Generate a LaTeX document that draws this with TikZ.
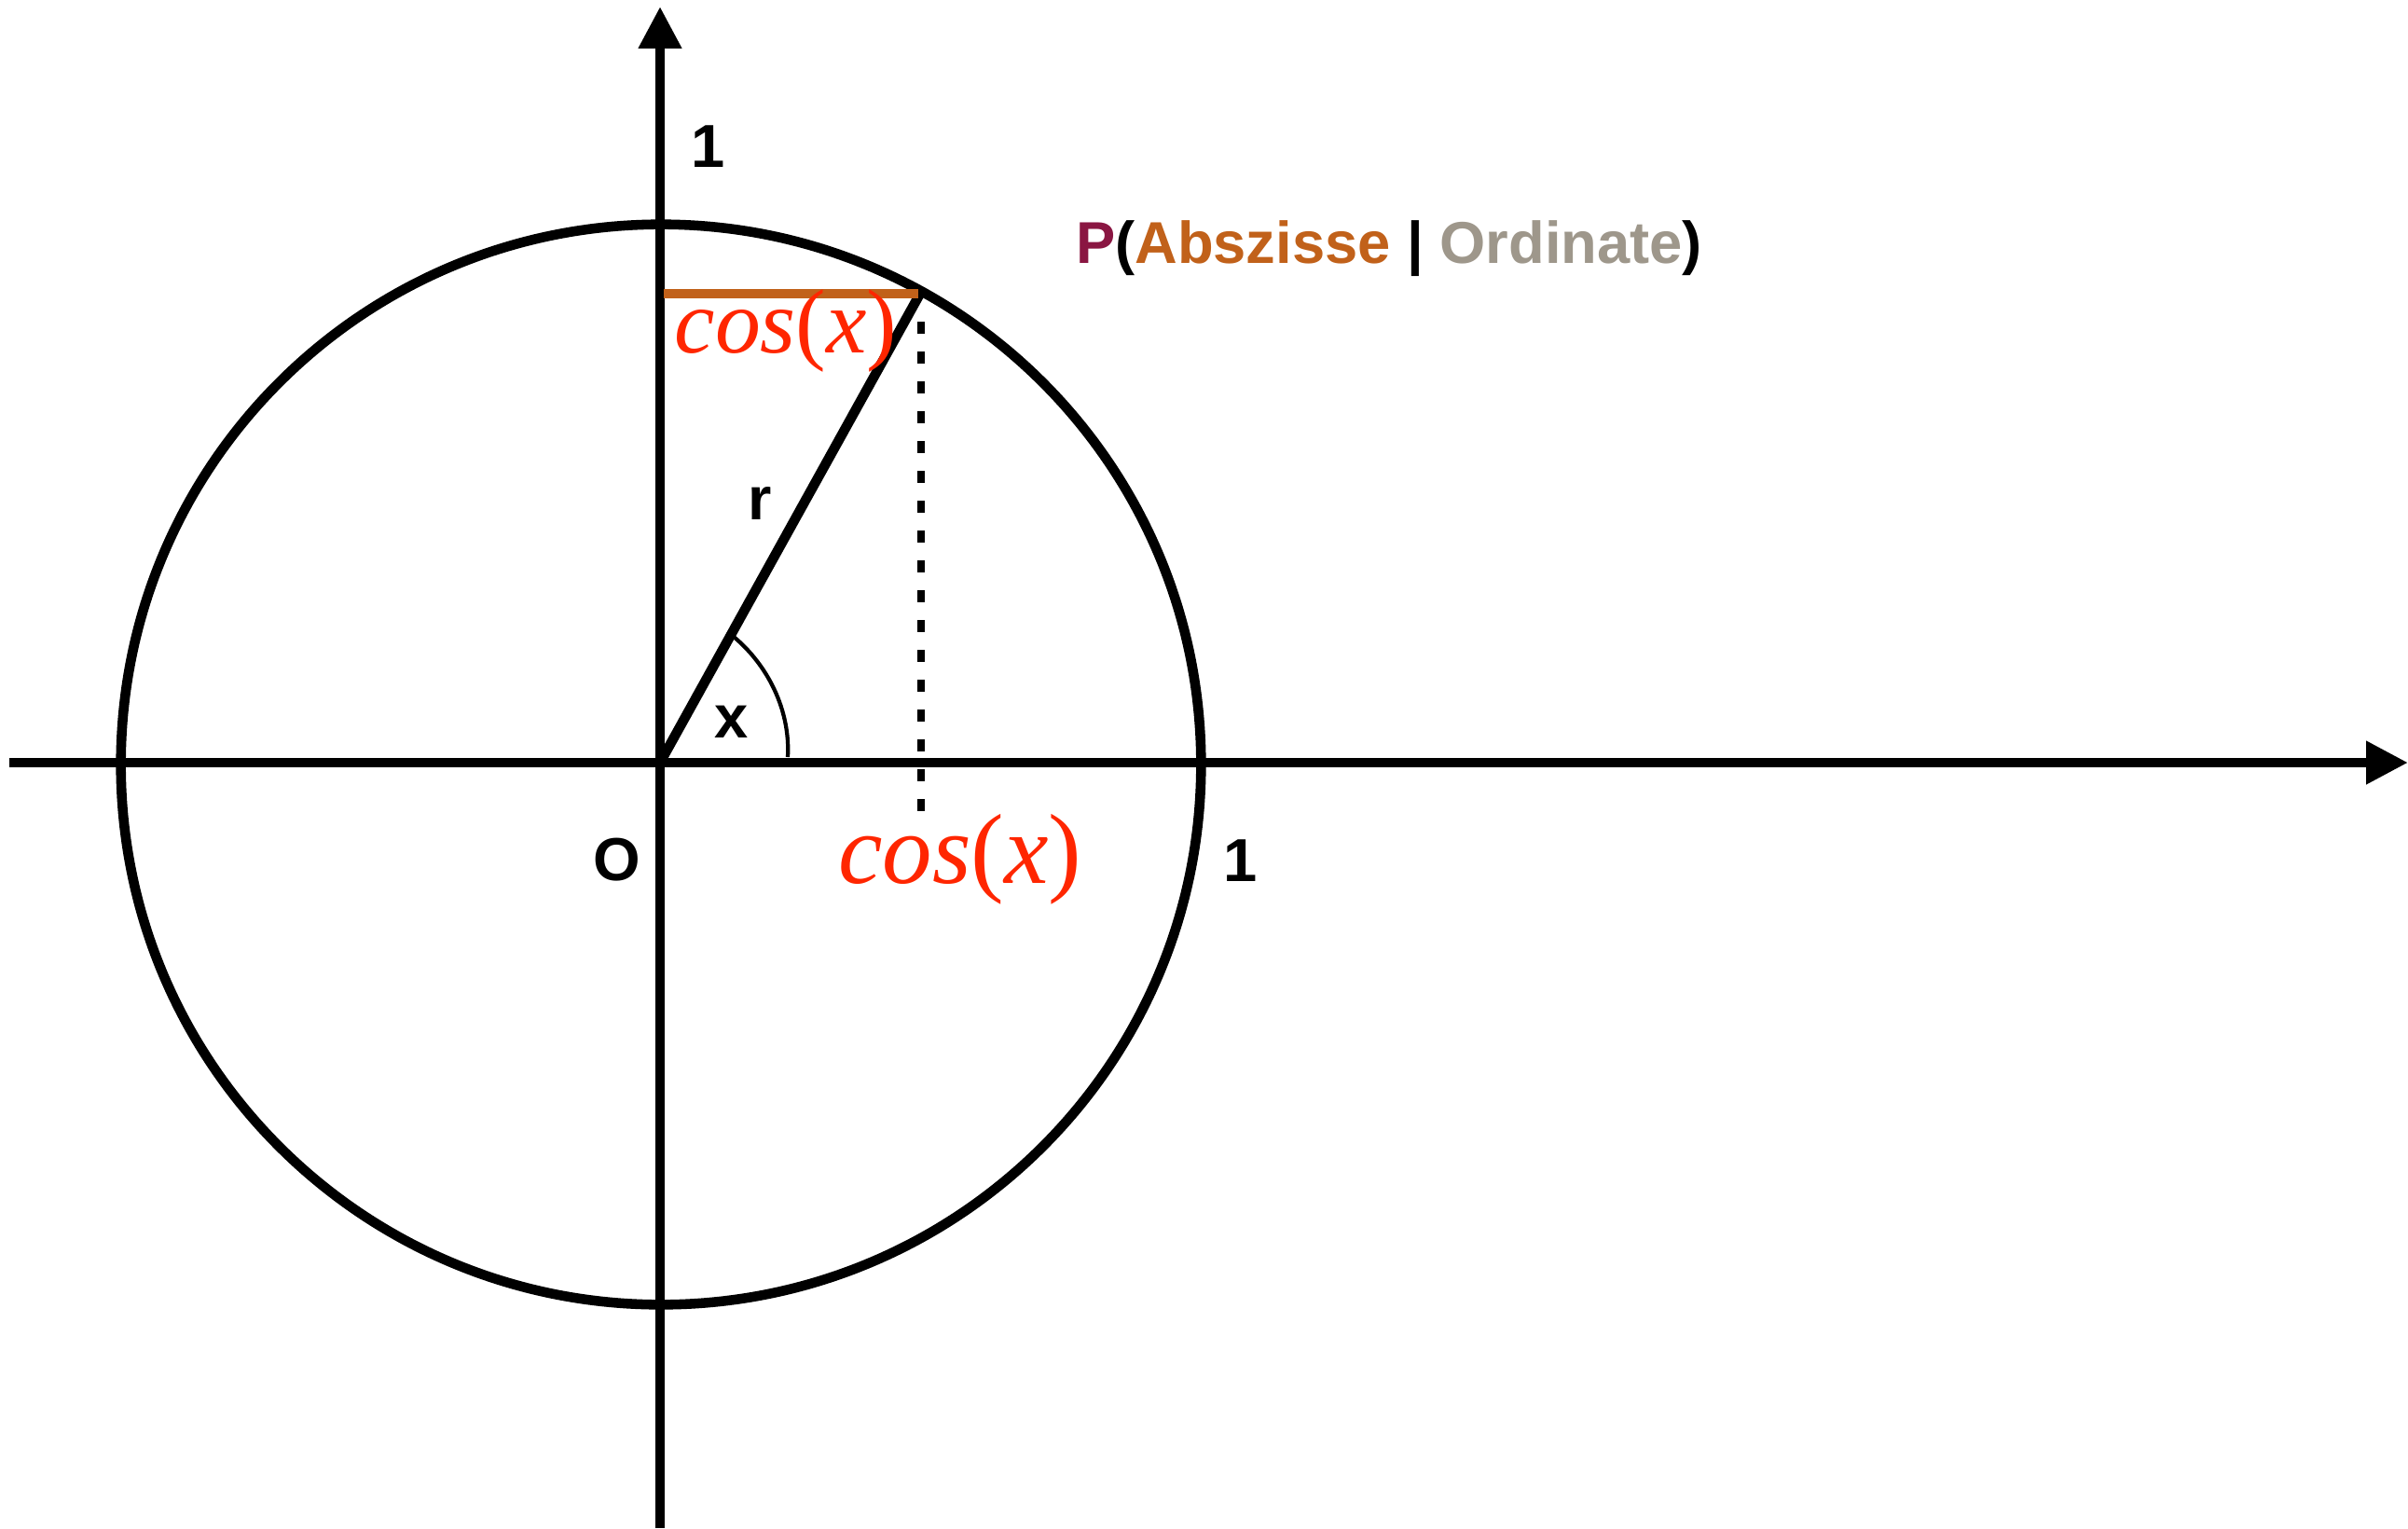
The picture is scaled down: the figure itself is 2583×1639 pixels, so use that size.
\documentclass[tikz,border=0pt]{standalone}
\usepackage{fontspec}
\setmainfont{Liberation Serif}
\newfontfamily\lsans{Liberation Sans}
\usetikzlibrary{arrows.meta}
\definecolor{cosred}{RGB}{255,38,0}
\definecolor{absorange}{RGB}{193,97,26}
\definecolor{ordgray}{RGB}{158,151,139}
\definecolor{pmaroon}{RGB}{138,22,66}
\begin{document}
\begin{tikzpicture}[x=0.01cm,y=-0.01cm,
  heavy/.style={line width=3pt},
  lbl/.style={font=\lsans\bfseries\fontsize{18.5}{20}\selectfont, inner sep=0pt},
  cosl/.style={text=cosred, inner sep=0pt},
  axisarrow/.style={heavy, -{Triangle[length=0.45cm,width=0.44cm]}}]
\useasboundingbox (0,0) rectangle (2583,1639);
% coordinates
\coordinate (O) at (708,818);
\coordinate (C) at (709,820);
\coordinate (ytop) at (708,7);
\coordinate (ybot) at (708,1639);
\coordinate (xleft) at (10,818);
\coordinate (xright) at (2583,818);
\coordinate (P) at (988,313);
\coordinate (Pl) at (712,315);
\coordinate (Pr) at (985,315);
\coordinate (D1) at (988,345);
\coordinate (D2) at (988,872);
\coordinate (A1) at (787,683);
\coordinate (A2) at (845,812);
% axes
\draw[axisarrow] (ybot) -- (ytop);
\draw[axisarrow] (xleft) -- (xright);
% circle
\draw[heavy] (C) circle[radius=5.79cm];
% radius line
\draw[heavy] (O) -- (P);
% orange abscissa line
\draw[line width=2.9pt, absorange] (Pl) -- (Pr);
% dashed
\draw[line width=2.3pt, dash pattern=on 0.13cm off 0.19cm] (D1) -- (D2);
% angle arc
\draw[line width=1.2pt] (A1) .. controls (822,712) and (848,760) .. (A2);
% labels
\node[lbl] (one1) at (760,157) {1};
\node[lbl] (one2) at (1331,923) {1};
\node[lbl] (olbl) at (662,922) {O};
\node[lbl] (rlbl) at (815,540) {r};
\node[lbl] (xlbl) at (785,774) {x};
\node[cosl, font=\fontsize{27.8}{30}\selectfont] (cos1) at (843,355) {\textit{cos}(\textit{x})};
\node[cosl, font=\fontsize{30.4}{33}\selectfont] (cos2) at (1030,922) {\textit{cos}(\textit{x})};
\node[lbl, font=\lsans\bfseries\fontsize{18}{20}\selectfont] (ptext) at (1490,267) {\textcolor{pmaroon}{P}(\textcolor{absorange}{Abszisse} | \textcolor{ordgray}{Ordinate})};
\end{tikzpicture}
\end{document}
